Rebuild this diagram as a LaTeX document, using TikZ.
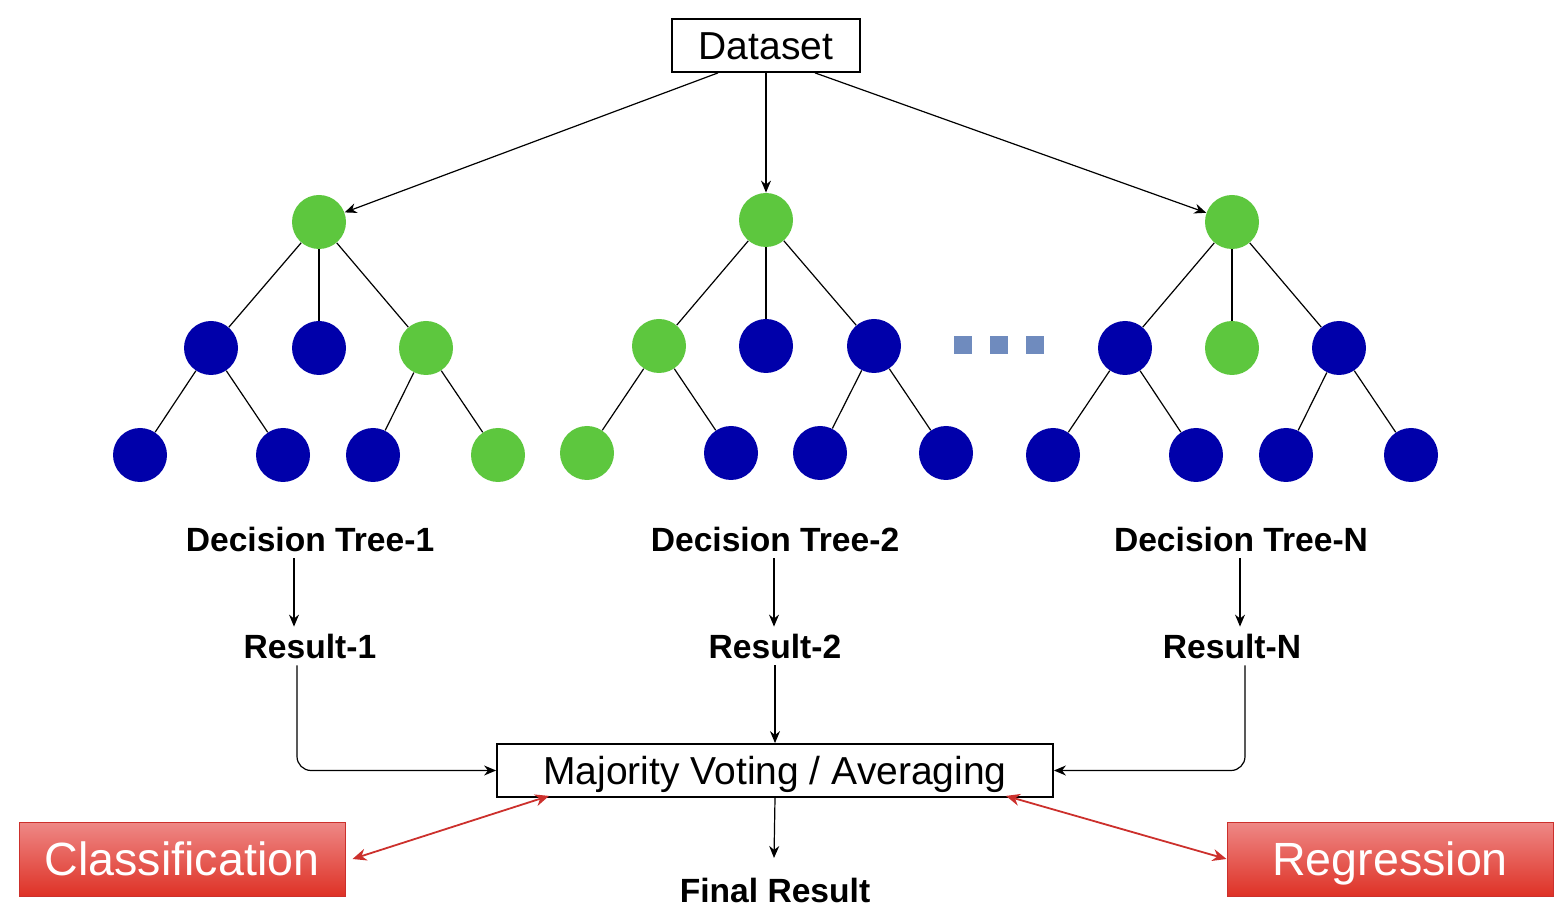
\documentclass[tikz,border=0pt]{standalone}
\usepackage{fontspec}
\setmainfont{Liberation Sans}
\usetikzlibrary{calc,arrows.meta}
\definecolor{leafgreen}{RGB}{93,199,62}
\definecolor{leafblue}{RGB}{0,0,170}
\definecolor{dotblue}{RGB}{111,139,190}
\definecolor{boxred}{RGB}{204,48,44}
\definecolor{boxtop}{RGB}{238,136,134}
\definecolor{boxbot}{RGB}{222,50,38}
\tikzset{x=0.5pt, y=-0.5pt,
  arr/.style={-{Stealth[length=6pt,width=5pt]}, line width=0.6pt},
  redarr/.style={{Stealth[length=7pt,width=6pt]}-{Stealth[length=7pt,width=6pt]}, draw=boxred, line width=0.9pt},
  green node/.style={circle, fill=leafgreen, minimum size=27pt, inner sep=0pt},
  blue node/.style={circle, fill=leafblue, minimum size=27pt, inner sep=0pt},
  dot/.style={rectangle, fill=dotblue, minimum size=9pt, inner sep=0pt},
  plain box/.style={draw=black, line width=0.9pt, text height=14pt, text depth=0pt,
           font=\fontsize{19.5}{22}\selectfont},
  task label/.style={font=\fontsize{16.8}{20}\selectfont\bfseries},
  red box/.style={draw=boxred, line width=0.5pt, top color=boxtop, bottom color=boxbot,
           text=white, minimum width=163pt, minimum height=37pt, text height=16.7pt, text depth=0pt,
           font=\fontsize{23.3}{28}\selectfont}
}
\begin{document}
\begin{tikzpicture}
\useasboundingbox (0,0) rectangle (1568,908);
\node (Dataset) [plain box, minimum width=94pt, minimum height=26.5pt] at (766,45.5) {Dataset};
% tree 1
\node (Root1) [green node] at (319,222) {};
\node (A1) [blue node] at (211,348) {};
\node (B1) [blue node] at (319,348) {};
\node (C1) [green node] at (426,348) {};
\node (D1) [blue node] at (140,455) {};
\node (E1) [blue node] at (283,455) {};
\node (F1) [blue node] at (373,455) {};
\node (G1) [green node] at (498,455) {};
% tree 2
\node (Root2) [green node] at (766,220) {};
\node (A2) [green node] at (659,346) {};
\node (B2) [blue node] at (766,346) {};
\node (C2) [blue node] at (874,346) {};
\node (D2) [green node] at (587,453) {};
\node (E2) [blue node] at (731,453) {};
\node (F2) [blue node] at (820,453) {};
\node (G2) [blue node] at (946,453) {};
% tree N
\node (RootN) [green node] at (1232,222) {};
\node (AN) [blue node] at (1125,348) {};
\node (BN) [green node] at (1232,348) {};
\node (CN) [blue node] at (1339,348) {};
\node (DN) [blue node] at (1053,455) {};
\node (EN) [blue node] at (1196,455) {};
\node (FN) [blue node] at (1286,455) {};
\node (GN) [blue node] at (1411,455) {};
\foreach \t in {1,2,N} {
  \draw[line width=0.6pt] (Root\t) -- (A\t);
  \draw[line width=0.6pt] (Root\t) -- (B\t);
  \draw[line width=0.6pt] (Root\t) -- (C\t);
  \draw[line width=0.6pt] (A\t) -- (D\t);
  \draw[line width=0.6pt] (A\t) -- (E\t);
  \draw[line width=0.6pt] (C\t) -- (F\t);
  \draw[line width=0.6pt] (C\t) -- (G\t);
}
\foreach \x/\n in {963/1,999/2,1035/3}
  \node (Dot\n) [dot] at (\x,345) {};
\draw[arr] ($(Dataset.south)+(-48,0)$) -- (Root1);
\draw[arr] (Dataset.south) -- (Root2);
\draw[arr] ($(Dataset.south)+(49,0)$) -- (RootN);
% labels and results
\node (Lab1) [task label] at (310,539) {Decision Tree-1};
\node (Lab2) [task label] at (775,539) {Decision Tree-2};
\node (LabN) [task label] at (1241,539) {Decision Tree-N};
\node (Res1) [task label] at (310,646) {Result-1};
\node (Res2) [task label] at (775,646) {Result-2};
\node (ResN) [task label] at (1232,646) {Result-N};
\draw[arr] ($(Lab1.south)+(-16,0)$) -- ($(Res1.north)+(-16,0)$);
\draw[arr] ($(Lab2.south)+(-1,0)$) -- ($(Res2.north)+(-1,0)$);
\draw[arr] ($(LabN.south)+(-1,0)$) -- ($(ResN.north)+(8,0)$);
\node (Vote) [plain box, minimum width=278pt, minimum height=26.5pt] at (775,770.5) {Majority Voting / Averaging};
\draw[arr, rounded corners=7pt] ($(Res1.south)+(-13,0)$) |- (Vote.west);
\draw[arr] (Res2.south) -- (Vote.north);
\draw[arr, rounded corners=7pt] ($(ResN.south)+(13,0)$) |- (Vote.east);
\node (Final) [task label] at (775,890) {Final Result};
\coordinate (FinalTip) at (774,858);
\draw[arr] (Vote.south) -- (FinalTip);
\node (Class) [red box] at (182,859) {Classification};
\node (Reg) [red box] at (1390,859) {Regression};
\draw[redarr] ($(Vote.south west)+(53,-2)$) -- ($(Class.east)+(7,0)$);
\draw[redarr] ($(Vote.south east)+(-48,-2)$) -- (Reg.west);
\end{tikzpicture}
\end{document}
